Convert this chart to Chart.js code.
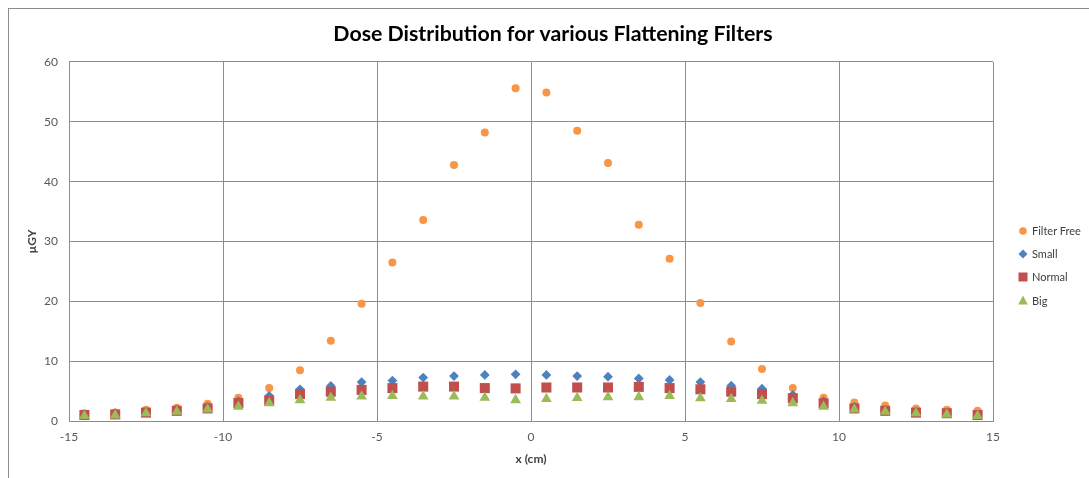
<!DOCTYPE html>
<html>
<head>
<meta charset="utf-8">
<title>Dose Distribution</title>
<script src="https://cdn.jsdelivr.net/npm/chart.js@4.4.1/dist/chart.umd.min.js"></script>
<style>
  html, body { margin: 0; padding: 0; background: #fff; overflow: hidden; }
  #wrap { position: relative; width: 1089px; height: 478px; }
  #frame { position: absolute; left: 8px; top: 8px; width: 1120px; height: 520px; border: 1px solid #8c8c8c; }
  #chartBox { position: absolute; left: 0; top: 0; width: 1089px; height: 478px; }
  #legend { position: absolute; left: 1017px; top: 219px; font: 11px Lato, sans-serif; color: #404040; }
  #legend .item { height: 23.2px; display: flex; align-items: center; white-space: nowrap; }
  #legend svg { margin-right: 3px; }
</style>
</head>
<body>
<div id="wrap">
  <div id="frame"></div>
  <div id="chartBox"><canvas id="doseChart"></canvas></div>
  <div id="legend"></div>
</div>
<script>
// measurement positions along the profile (cm)
const xPositions = [-14.5, -13.5, -12.5, -11.5, -10.5, -9.5, -8.5, -7.5, -6.5, -5.5,
                    -4.5, -3.5, -2.5, -1.5, -0.5, 0.5, 1.5, 2.5, 3.5, 4.5,
                    5.5, 6.5, 7.5, 8.5, 9.5, 10.5, 11.5, 12.5, 13.5, 14.5];

// dose per filter (µGy)
const filterFree = [1.3, 1.4, 1.9, 2.2, 2.9, 3.9, 5.5, 8.5, 13.4, 19.6,
                    26.5, 33.6, 42.8, 48.2, 55.6, 54.9, 48.5, 43.1, 32.8, 27.1,
                    19.7, 13.3, 8.7, 5.5, 3.9, 3.1, 2.6, 2.1, 1.9, 1.7];
const small = [1.1, 1.3, 1.5, 1.9, 2.4, 3.3, 4.2, 5.3, 5.85, 6.5,
               6.75, 7.25, 7.5, 7.7, 7.8, 7.7, 7.5, 7.4, 7.1, 6.85,
               6.5, 5.9, 5.4, 4.35, 3.3, 2.4, 1.9, 1.5, 1.3, 1.1];
const normal = [1.0, 1.1, 1.4, 1.7, 2.1, 3.0, 3.4, 4.5, 4.9, 5.2,
                5.5, 5.75, 5.75, 5.5, 5.45, 5.6, 5.6, 5.6, 5.7, 5.5,
                5.3, 4.9, 4.5, 3.8, 2.95, 2.1, 1.7, 1.4, 1.3, 1.0];
const big = [0.85, 0.95, 1.3, 1.55, 1.95, 2.4, 3.0, 3.5, 3.9, 4.1,
             4.2, 4.1, 4.1, 3.9, 3.5, 3.7, 3.85, 4.0, 4.0, 4.2,
             3.8, 3.7, 3.4, 3.0, 2.4, 1.95, 1.55, 1.3, 1.1, 0.85];

const seriesNames = ['Filter Free', 'Small', 'Normal', 'Big'];
const seriesValues = [filterFree, small, normal, big];
const seriesColors = ['#F79646', '#4F81BD', '#C0504D', '#9BBB59'];
const seriesStyles = ['circle', 'rectRot', 'rect', 'triangle'];
const seriesRadius = [4, 4.9, 7.1, 6.2];

const xTicks = [-15, -10, -5, 0, 5, 10, 15];
const yTicks = [0, 10, 20, 30, 40, 50, 60];

const chartTitle = 'Dose Distribution for various Flattening Filters';
const xTitle = 'x (cm)';
const yTitle = 'µGY';

const gridColor = '#8c8c8c';
const tickFont = { family: 'Lato', size: 12 };
const axisTitleFont = { family: 'Lato', size: 12, weight: 'bold' };

const datasets = seriesNames.map((name, i) => ({
    label: name,
    data: xPositions.map((x, j) => ({ x: x, y: seriesValues[i][j] })),
    pointStyle: seriesStyles[i],
    pointRadius: seriesRadius[i],
    pointBackgroundColor: seriesColors[i],
    pointBorderWidth: 0,
    showLine: false,
    order: seriesNames.length - i   // first series sits underneath
}));

new Chart(document.getElementById('doseChart'), {
    type: 'scatter',
    data: { datasets: datasets },
    options: {
        responsive: true,
        maintainAspectRatio: false,
        animation: false,
        layout: { padding: { left: 17, right: 0, top: 0, bottom: 0 } },
        plugins: {
            legend: { display: false },
            tooltip: { enabled: false },
            title: {
                display: true,
                text: chartTitle,
                color: '#000',
                font: { family: 'Lato', size: 21.3, weight: 'bold', lineHeight: 1.2 },
                padding: { top: 21, bottom: 15.4 }
            }
        },
        scales: {
            x: {
                type: 'linear',
                min: xTicks[0],
                max: xTicks[xTicks.length - 1],
                afterBuildTicks: s => { s.ticks = xTicks.map(v => ({ value: v })); },
                afterFit: s => { s.height = 57; },
                ticks: { color: '#595959', font: tickFont, padding: 9, maxRotation: 0 },
                grid: { color: gridColor, drawTicks: false },
                border: { color: gridColor },
                title: { display: true, text: xTitle, color: '#404040', font: axisTitleFont, padding: { top: 0, bottom: 12 } }
            },
            y: {
                type: 'linear',
                min: yTicks[0],
                max: yTicks[yTicks.length - 1],
                afterBuildTicks: s => { s.ticks = yTicks.map(v => ({ value: v })); },
                afterFit: s => { s.width = 52; },
                ticks: { color: '#595959', font: tickFont, padding: 11 },
                grid: { color: gridColor, drawTicks: false },
                border: { color: gridColor },
                title: { display: true, text: yTitle, color: '#404040', font: axisTitleFont, padding: { top: 8, bottom: 0 } }
            },
            // empty band on the right that holds the legend
            legendSpace: {
                type: 'linear',
                position: 'right',
                grid: { display: false },
                ticks: { display: false },
                border: { display: false },
                afterFit: s => { s.width = 96; }
            }
        }
    }
});

// legend entries with the same marker shapes
const markerSvg = {
    circle: c => `<svg width="12" height="12"><circle cx="6" cy="6" r="3.8" fill="${c}"/></svg>`,
    rectRot: c => `<svg width="12" height="12"><polygon points="6,1.5 10.5,6 6,10.5 1.5,6" fill="${c}"/></svg>`,
    rect: c => `<svg width="12" height="12"><rect x="1.5" y="1.5" width="9" height="9" fill="${c}"/></svg>`,
    triangle: c => `<svg width="12" height="12"><polygon points="6,1.5 10.8,10.5 1.2,10.5" fill="${c}"/></svg>`
};
document.getElementById('legend').innerHTML = seriesNames.map((name, i) =>
    `<div class="item">${markerSvg[seriesStyles[i]](seriesColors[i])}<span>${name}</span></div>`
).join('');
</script>
</body>
</html>
